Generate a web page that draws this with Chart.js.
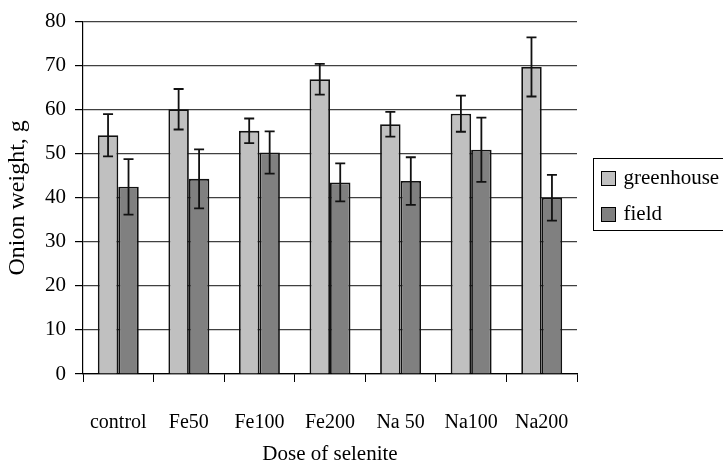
<!DOCTYPE html>
<html>
<head>
<meta charset="utf-8">
<script src="https://cdn.jsdelivr.net/npm/chart.js@4"></script>
<style>
  body { margin: 0; background: #fff; }
  #wrap { width: 723px; height: 466px; }
</style>
</head>
<body>
<div id="wrap"><canvas id="myChart"></canvas></div>
<script>
const doses = ['control', 'Fe50', 'Fe100', 'Fe200', 'Na 50', 'Na100', 'Na200'];
const greenhouse = [54.2, 60.1, 55.2, 66.9, 56.7, 59.1, 69.7];
const greenhouseErr = [4.8, 4.6, 2.8, 3.5, 2.8, 4.1, 6.7];
const field = [42.5, 44.3, 50.3, 43.5, 43.8, 50.9, 40.0];
const fieldErr = [6.3, 6.7, 4.8, 4.3, 5.4, 7.3, 5.2];

const serif = 'Liberation Serif';

// error bars drawn from the y scale
const errorBars = {
  id: 'errorBars',
  afterDatasetsDraw(chart) {
    const ctx = chart.ctx;
    const y = chart.scales.y;
    ctx.save();
    ctx.strokeStyle = '#111';
    ctx.lineWidth = 1.8;
    chart.data.datasets.forEach((ds, i) => {
      const meta = chart.getDatasetMeta(i);
      meta.data.forEach((bar, j) => {
        const v = ds.data[j], e = ds.errors[j];
        const top = y.getPixelForValue(v + e);
        const bot = y.getPixelForValue(v - e);
        ctx.beginPath();
        ctx.moveTo(bar.x, top); ctx.lineTo(bar.x, bot);
        ctx.moveTo(bar.x - 5, top); ctx.lineTo(bar.x + 5, top);
        ctx.moveTo(bar.x - 5, bot); ctx.lineTo(bar.x + 5, bot);
        ctx.stroke();
      });
    });
    ctx.restore();
  }
};

// boxed legend on the right, partly cut by the edge like the original
const boxLegend = {
  id: 'boxLegend',
  afterDraw(chart) {
    const ctx = chart.ctx;
    const x0 = chart.chartArea.right + 16.5;
    const y0 = 158.5;
    ctx.save();
    ctx.strokeStyle = '#000';
    ctx.lineWidth = 1;
    ctx.strokeRect(x0, y0, 160, 72);
    ctx.font = '21px "' + serif + '"';
    ctx.textBaseline = 'middle';
    chart.data.datasets.forEach((ds, i) => {
      const cy = y0 + 20 + i * 36;
      ctx.fillStyle = ds.backgroundColor;
      ctx.fillRect(x0 + 8, cy - 7, 14, 14);
      ctx.strokeRect(x0 + 8, cy - 7, 14, 14);
      ctx.fillStyle = '#000';
      ctx.fillText(ds.label, x0 + 30, cy);
    });
    ctx.restore();
  }
};

new Chart(document.getElementById('myChart'), {
  type: 'bar',
  data: {
    labels: doses,
    datasets: [
      { label: 'greenhouse', data: greenhouse, errors: greenhouseErr,
        backgroundColor: '#c0c0c0', borderColor: '#111', borderWidth: 1.8 },
      { label: 'field', data: field, errors: fieldErr,
        backgroundColor: '#808080', borderColor: '#111', borderWidth: 1.8 }
    ]
  },
  options: {
    responsive: true,
    maintainAspectRatio: false,
    animation: false,
    devicePixelRatio: 1,
    categoryPercentage: 0.58,
    barPercentage: 1.0,
    layout: { padding: { left: 0, top: 17, right: 146, bottom: 0 } },
    plugins: {
      legend: { display: false },
      tooltip: { enabled: false }
    },
    scales: {
      x: {
        afterFit(scale) { scale.height = 92; },
        grid: { drawOnChartArea: false, tickLength: 8, tickColor: '#000', offset: true },
        border: { color: '#000', width: 1.2 },
        ticks: { color: '#000', font: { family: serif, size: 20 }, padding: 29 },
        title: { display: true, text: 'Dose of selenite', color: '#000',
                 font: { family: serif, size: 21 }, padding: { top: 0, bottom: -1 } }
      },
      y: {
        min: 0, max: 80,
        afterFit(scale) { scale.width = 83; },
        grid: { color: '#404040', lineWidth: 1.2, tickLength: 8, tickColor: '#000' },
        border: { color: '#000', width: 1.2 },
        ticks: { stepSize: 10, color: '#000', font: { family: serif, size: 21 }, padding: 9 },
        title: { display: true, text: 'Onion weight, g', color: '#000',
                 font: { family: serif, size: 24 }, padding: { top: 3, bottom: 0 } }
      }
    }
  },
  plugins: [errorBars, boxLegend]
});
</script>
</body>
</html>
